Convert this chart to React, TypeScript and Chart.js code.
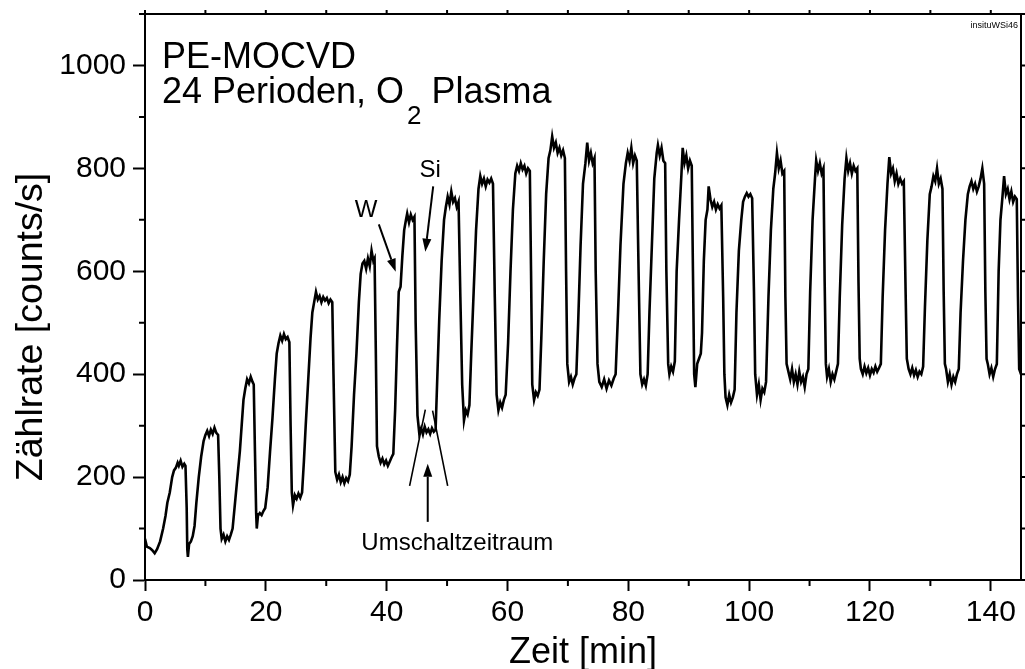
import React, { useEffect, useRef } from "react";
import { Chart, registerables } from "chart.js";

Chart.register(...registerables);

const FONT = '"Liberation Sans", Arial, Helvetica, sans-serif';

// axis ranges and tick labels
const xRange = [0, 145];
const yRange = [0, 1100];
const xTickValues = [0, 20, 40, 60, 80, 100, 120, 140];
const yTickValues = [0, 200, 400, 600, 800, 1000];

const signal0to41: number[][] = [
  [0, 80], [0.3, 65], [0.8, 62], [1.2, 58], [1.6, 52], [2.0, 60], [2.5, 75], [3.0, 100], [3.4, 125], [3.7, 150], [4.1, 170], [4.5, 200], [4.8, 213],
  [5.1, 218], [5.4, 228], [5.6, 222], [5.9, 232], [6.2, 220], [6.5, 226], [6.7, 222],
  [6.9, 140], [7.0, 60], [7.1, 45], [7.3, 70], [7.6, 75], [7.9, 85], [8.2, 105],
  [8.5, 150], [8.9, 200], [9.3, 240], [9.7, 270], [10.0, 282],
  [10.3, 290], [10.6, 280], [10.9, 292], [11.2, 284], [11.5, 296], [11.8, 286], [12.1, 282],
  [12.3, 200], [12.5, 100], [12.7, 80], [13.0, 88], [13.3, 75], [13.6, 85], [13.9, 78], [14.2, 88], [14.5, 100],
  [14.9, 150], [15.3, 200], [15.7, 250], [16.0, 300], [16.3, 350], [16.6, 372],
  [16.9, 390], [17.2, 382], [17.5, 395], [17.8, 385], [18.0, 380],
  [18.2, 250], [18.4, 130], [18.5, 100], [18.7, 125], [19.0, 130], [19.3, 126], [19.6, 134], [19.9, 140],
  [20.3, 180], [20.7, 250], [21.1, 315], [21.5, 390], [21.8, 440], [22.1, 460],
  [22.4, 475], [22.7, 465], [23.0, 478], [23.3, 468], [23.6, 472], [23.9, 462],
  [24.1, 300], [24.3, 170], [24.5, 145], [24.8, 165], [25.1, 158], [25.4, 168], [25.7, 160], [26.0, 170],
  [26.3, 230], [26.6, 300], [27.0, 385], [27.4, 470], [27.7, 520], [28.0, 540],
  [28.3, 560], [28.6, 545], [28.9, 552], [29.2, 540], [29.5, 550], [29.8, 543], [30.1, 548], [30.4, 538], [30.7, 545], [31.0, 540],
  [31.2, 400], [31.5, 210], [31.8, 195], [32.1, 205], [32.4, 190], [32.7, 200], [33.0, 188], [33.3, 198], [33.6, 192], [33.9, 205],
  [34.2, 260], [34.6, 360], [35.0, 440], [35.4, 540], [35.7, 595], [36.0, 615],
  [36.3, 620], [36.6, 605], [36.9, 625], [37.2, 610], [37.5, 640], [37.8, 620], [38.0, 625],
  [38.2, 450], [38.4, 260], [38.7, 240], [39.0, 228], [39.3, 236], [39.6, 225], [39.9, 232], [40.2, 222], [40.5, 230], [40.8, 238], [41.1, 245],
];

const signal41to82: number[][] = [
  [41.4, 330], [41.7, 450], [42.0, 560], [42.3, 570], [42.6, 630], [42.9, 680], [43.2, 700],
  [43.4, 712], [43.7, 695], [44.0, 710], [44.3, 700], [44.6, 706],
  [44.8, 500], [45.1, 320], [45.4, 285], [45.7, 295], [46.0, 283], [46.3, 298], [46.6, 287], [46.9, 293], [47.2, 284], [47.5, 295], [47.8, 288], [48.1, 292],
  [48.4, 400], [48.7, 505], [49.1, 620], [49.5, 700], [49.8, 725],
  [50.1, 745], [50.4, 730], [50.7, 755], [51.0, 735], [51.3, 742], [51.6, 725], [51.9, 735],
  [52.2, 550], [52.5, 380], [52.8, 310], [53.1, 330], [53.4, 322], [53.7, 340],
  [54.0, 440], [54.4, 560], [54.8, 680], [55.2, 760],
  [55.5, 785], [55.8, 770], [56.1, 780], [56.4, 765], [56.7, 778], [57.0, 772], [57.3, 780], [57.6, 770],
  [57.9, 550], [58.2, 360], [58.5, 330], [58.8, 345], [59.1, 335], [59.4, 350], [59.7, 360],
  [60.1, 460], [60.5, 600], [60.9, 720], [61.3, 790],
  [61.6, 805], [61.9, 795], [62.2, 810], [62.5, 798], [62.8, 805], [63.1, 790], [63.4, 800], [63.7, 795],
  [63.9, 600], [64.1, 380], [64.4, 350], [64.7, 365], [65.0, 358], [65.3, 370],
  [65.6, 470], [66.0, 620], [66.4, 750], [66.8, 820],
  [67.1, 835], [67.4, 862], [67.7, 840], [68.0, 850], [68.3, 830], [68.6, 840], [68.9, 825], [69.2, 835], [69.5, 820],
  [69.7, 600], [69.9, 420], [70.2, 385], [70.5, 395], [70.8, 380], [71.1, 392], [71.4, 400],
  [71.7, 500], [72.1, 650], [72.5, 770], [72.9, 810],
  [73.2, 850], [73.5, 815], [73.8, 830], [74.1, 810], [74.4, 820],
  [74.6, 600], [74.9, 420], [75.2, 385], [75.6, 375], [76.0, 390], [76.4, 372], [76.8, 388], [77.2, 378], [77.6, 392], [77.9, 400],
  [78.3, 520], [78.7, 650], [79.2, 770], [79.6, 810],
  [79.9, 830], [80.2, 815], [80.5, 840], [80.8, 810], [81.1, 825], [81.4, 815],
  [81.7, 600], [82.0, 400],
];

const signal82to120: number[][] = [
  [82.3, 380], [82.6, 390], [82.9, 378], [83.2, 400],
  [83.5, 520], [83.9, 650], [84.3, 780], [84.7, 830],
  [84.9, 845], [85.2, 825], [85.5, 840], [85.8, 815], [86.1, 810],
  [86.3, 600], [86.6, 420], [86.8, 400], [87.1, 415], [87.4, 405], [87.7, 425],
  [88.0, 600], [88.4, 700], [88.8, 790],
  [89.0, 840], [89.3, 810], [89.6, 825], [89.9, 800], [90.2, 815], [90.5, 805],
  [90.7, 600], [90.9, 400], [91.1, 375], [91.4, 420], [91.7, 430], [92.0, 440], [92.2, 480],
  [92.5, 620], [92.8, 700], [93.1, 720],
  [93.3, 765], [93.6, 740], [93.9, 725], [94.2, 735], [94.5, 720], [94.8, 730], [95.1, 722], [95.4, 728],
  [95.7, 550], [95.9, 400], [96.1, 355], [96.4, 340], [96.7, 360], [97.0, 345], [97.3, 355], [97.6, 370],
  [97.9, 520], [98.3, 640], [98.7, 700], [99.0, 735], [99.3, 745],
  [99.6, 752], [99.9, 745], [100.2, 750], [100.5, 742],
  [100.8, 560], [101.0, 400], [101.3, 360], [101.6, 380], [101.9, 350], [102.2, 372], [102.5, 365], [102.8, 385],
  [103.2, 550], [103.6, 680], [104.0, 760], [104.3, 790],
  [104.6, 830], [104.9, 800], [105.2, 815], [105.5, 790], [105.8, 795],
  [106.0, 550], [106.2, 420], [106.5, 405], [106.8, 390], [107.1, 410], [107.4, 385], [107.7, 400], [108.0, 380], [108.3, 405], [108.6, 385], [108.9, 395], [109.2, 375], [109.5, 400], [109.8, 410],
  [110.1, 560], [110.5, 700], [110.9, 780],
  [111.1, 815], [111.4, 795], [111.7, 810], [112.0, 790], [112.3, 800],
  [112.5, 580], [112.7, 420], [112.9, 395], [113.2, 410], [113.5, 385], [113.8, 400], [114.1, 390], [114.4, 405], [114.7, 420],
  [115.0, 550], [115.4, 690], [115.8, 780],
  [116.1, 820], [116.4, 795], [116.7, 810], [117.0, 790], [117.3, 805], [117.6, 795], [117.9, 800],
  [118.1, 580], [118.3, 430], [118.5, 410], [118.8, 400], [119.1, 415], [119.4, 402], [119.7, 412],
];

const signal120to145: number[][] = [
  [120.0, 398], [120.3, 410], [120.6, 403], [120.9, 415], [121.2, 405], [121.5, 412], [121.8, 420],
  [122.1, 550], [122.5, 680], [122.9, 770],
  [123.2, 822], [123.5, 790], [123.8, 800], [124.1, 775], [124.4, 790], [124.7, 770], [125.0, 780], [125.3, 770], [125.6, 775],
  [125.9, 560], [126.1, 430], [126.4, 410], [126.7, 400], [127.0, 412], [127.3, 398], [127.6, 408], [127.9, 395], [128.2, 405], [128.5, 400], [128.8, 415],
  [129.1, 530], [129.5, 660], [129.9, 750],
  [130.2, 765], [130.5, 785], [130.8, 775], [131.1, 800], [131.4, 770], [131.7, 780], [132.0, 760],
  [132.2, 560], [132.4, 420], [132.6, 410], [132.9, 385], [133.2, 400], [133.5, 380], [133.8, 395], [134.1, 385], [134.4, 400], [134.7, 410],
  [135.0, 520], [135.4, 620], [135.8, 700], [136.2, 750],
  [136.5, 765], [136.8, 775], [137.1, 760], [137.4, 770], [137.7, 755], [138.0, 765], [138.3, 780], [138.6, 800], [138.9, 770],
  [139.1, 560], [139.3, 430], [139.5, 420], [139.8, 400], [140.1, 412], [140.4, 395], [140.7, 410], [141.0, 420],
  [141.3, 600], [141.6, 700], [141.9, 740],
  [142.2, 785], [142.5, 750], [142.8, 760], [143.1, 740], [143.4, 755], [143.7, 735], [144.0, 745], [144.3, 740],
  [144.5, 550], [144.7, 410], [144.85, 405], [145.0, 430],
];

// annotations, anchored in data coordinates [min, counts/s]
const headerLine1 = { text: "PE-MOCVD", at: [2.8, 996] };
const headerLine2 = { main: "24 Perioden, O", sub: "2", rest: " Plasma", at: [2.8, 928] };
const labelW = { text: "W", at: [36.6, 706] };
const labelSi = { text: "Si", at: [47.2, 784] };
const labelSwitch = { text: "Umschaltzeitraum", at: [51.7, 58] };
const arrowW = [[38.7, 691], [41.5, 599]];
const arrowSi = [[47.7, 765], [46.4, 638]];
const arrowSwitch = [[46.8, 113], [46.8, 226]];
const switchLines = [
  [[43.8, 183], [46.4, 331]],
  [[50.1, 183], [47.6, 329]],
];
const fileTag = "insituWSi46";

function drawArrow(ctx: CanvasRenderingContext2D, x1: number, y1: number, x2: number, y2: number) {
  const ang = Math.atan2(y2 - y1, x2 - x1);
  const head = 13;
  const half = 4.5;
  const bx = x2 - head * Math.cos(ang);
  const by = y2 - head * Math.sin(ang);
  ctx.beginPath();
  ctx.moveTo(x1, y1);
  ctx.lineTo(bx, by);
  ctx.stroke();
  ctx.beginPath();
  ctx.moveTo(x2, y2);
  ctx.lineTo(bx + half * Math.sin(ang), by - half * Math.cos(ang));
  ctx.lineTo(bx - half * Math.sin(ang), by + half * Math.cos(ang));
  ctx.closePath();
  ctx.fill();
}

const framePlugin = {
  id: "frame",
  afterDraw(chart: any) {
    const { ctx, chartArea: a, scales } = chart;
    const xs = scales.x;
    const ys = scales.y;
    const px = (v: number) => xs.getPixelForValue(v);
    const py = (v: number) => ys.getPixelForValue(v);
    ctx.save();
    ctx.strokeStyle = "#000";
    ctx.fillStyle = "#000";
    ctx.lineWidth = 2;
    ctx.lineCap = "butt";
    // top and right frame
    ctx.beginPath();
    ctx.moveTo(a.left - 1, a.top);
    ctx.lineTo(a.right, a.top);
    ctx.lineTo(a.right, a.bottom + 1);
    ctx.stroke();
    // minor ticks bottom / left, ticks top / right
    ctx.beginPath();
    for (let v = xRange[0]; v <= xRange[1]; v += 10) {
      const x = px(v);
      if (v % 20 !== 0) {
        ctx.moveTo(x, a.bottom);
        ctx.lineTo(x, a.bottom + 6);
      }
      ctx.moveTo(x, a.top);
      ctx.lineTo(x, a.top - 4);
    }
    for (let v = yRange[0]; v <= yRange[1]; v += 100) {
      const y = py(v);
      if (v % 200 !== 0) {
        ctx.moveTo(a.left, y);
        ctx.lineTo(a.left - 6, y);
      }
      ctx.moveTo(a.right, y);
      ctx.lineTo(a.right + 5, y);
    }
    ctx.stroke();

    // axis titles
    ctx.font = `36px ${FONT}`;
    ctx.textAlign = "center";
    ctx.textBaseline = "alphabetic";
    ctx.fillText("Zeit [min]", (a.left + a.right) / 2, 663);
    ctx.save();
    ctx.translate(42, 327);
    ctx.rotate(-Math.PI / 2);
    ctx.font = `37.5px ${FONT}`;
    ctx.fillText("Zählrate [counts/s]", 0, 0);
    ctx.restore();

    // header text
    ctx.textAlign = "left";
    ctx.font = `36px ${FONT}`;
    ctx.fillText(headerLine1.text, px(headerLine1.at[0]), py(headerLine1.at[1]));
    const hx = px(headerLine2.at[0]);
    const hy = py(headerLine2.at[1]);
    ctx.fillText(headerLine2.main, hx, hy);
    const w1 = ctx.measureText(headerLine2.main).width;
    ctx.font = `26px ${FONT}`;
    ctx.fillText(headerLine2.sub, hx + w1 + 3, hy + 21);
    const w2 = ctx.measureText(headerLine2.sub).width;
    ctx.font = `36px ${FONT}`;
    ctx.fillText(headerLine2.rest, hx + w1 + 3 + w2, hy);

    // labels
    ctx.font = `24px ${FONT}`;
    ctx.textAlign = "center";
    ctx.fillText(labelW.text, px(labelW.at[0]), py(labelW.at[1]));
    ctx.fillText(labelSi.text, px(labelSi.at[0]), py(labelSi.at[1]));
    ctx.fillText(labelSwitch.text, px(labelSwitch.at[0]), py(labelSwitch.at[1]));

    // arrows
    ctx.lineWidth = 2;
    for (const ar of [arrowW, arrowSi, arrowSwitch]) {
      drawArrow(ctx, px(ar[0][0]), py(ar[0][1]), px(ar[1][0]), py(ar[1][1]));
    }
    ctx.lineWidth = 1.6;
    ctx.beginPath();
    for (const ln of switchLines) {
      ctx.moveTo(px(ln[0][0]), py(ln[0][1]));
      ctx.lineTo(px(ln[1][0]), py(ln[1][1]));
    }
    ctx.stroke();

    // file tag
    ctx.font = `9px ${FONT}`;
    ctx.textAlign = "right";
    ctx.fillText(fileTag, a.right - 3, 28);
    ctx.restore();
  },
};

export default function App() {
  const canvasRef = useRef<HTMLCanvasElement | null>(null);

  useEffect(() => {
    document.body.style.margin = "0";
    const canvas = canvasRef.current;
    if (!canvas) return;
    const points = [...signal0to41, ...signal41to82, ...signal82to120, ...signal120to145].map((p) => ({ x: p[0], y: p[1] }));
    const tickFont = { family: FONT, size: 30 };
    const chart = new Chart(canvas, {
      type: "line",
      data: {
        datasets: [
          {
            data: points,
            borderColor: "#000",
            borderWidth: 2.6,
            pointRadius: 0,
            tension: 0,
            fill: false,
          },
        ],
      },
      options: {
        responsive: false,
        animation: false,
        devicePixelRatio: 1,
        layout: { padding: { top: 14, right: 4, left: 0, bottom: 0 } },
        plugins: { legend: { display: false }, tooltip: { enabled: false }, title: { display: false } },
        scales: {
          x: {
            type: "linear",
            position: "bottom",
            min: xRange[0],
            max: xRange[1],
            afterFit: (s: any) => {
              s.height = 89;
              s.paddingLeft = 0;
              s.paddingRight = 0;
            },
            afterBuildTicks: (s: any) => {
              s.ticks = xTickValues.map((v) => ({ value: v }));
            },
            ticks: { font: tickFont, color: "#000", padding: 4, maxRotation: 0, autoSkip: false, callback: (v: any) => String(v) },
            grid: { display: true, drawOnChartArea: false, drawTicks: true, tickLength: 11, tickWidth: 2, tickColor: "#000" },
            border: { display: true, color: "#000", width: 2 },
          },
          y: {
            type: "linear",
            position: "left",
            min: yRange[0],
            max: yRange[1],
            afterFit: (s: any) => {
              s.width = 145;
              s.paddingTop = 0;
              s.paddingBottom = 0;
            },
            afterBuildTicks: (s: any) => {
              s.ticks = yTickValues.map((v) => ({ value: v }));
            },
            ticks: { font: tickFont, color: "#000", padding: 7, autoSkip: false, callback: (v: any) => String(v) },
            grid: { display: true, drawOnChartArea: false, drawTicks: true, tickLength: 12, tickWidth: 2, tickColor: "#000" },
            border: { display: true, color: "#000", width: 2 },
          },
        },
      },
      plugins: [framePlugin],
    });
    return () => chart.destroy();
  }, []);

  return (
    <div style={{ width: 1025, height: 669, position: "relative" }}>
      <canvas ref={canvasRef} width={1025} height={669} style={{ display: "block", width: 1025, height: 669 }} />
    </div>
  );
}
